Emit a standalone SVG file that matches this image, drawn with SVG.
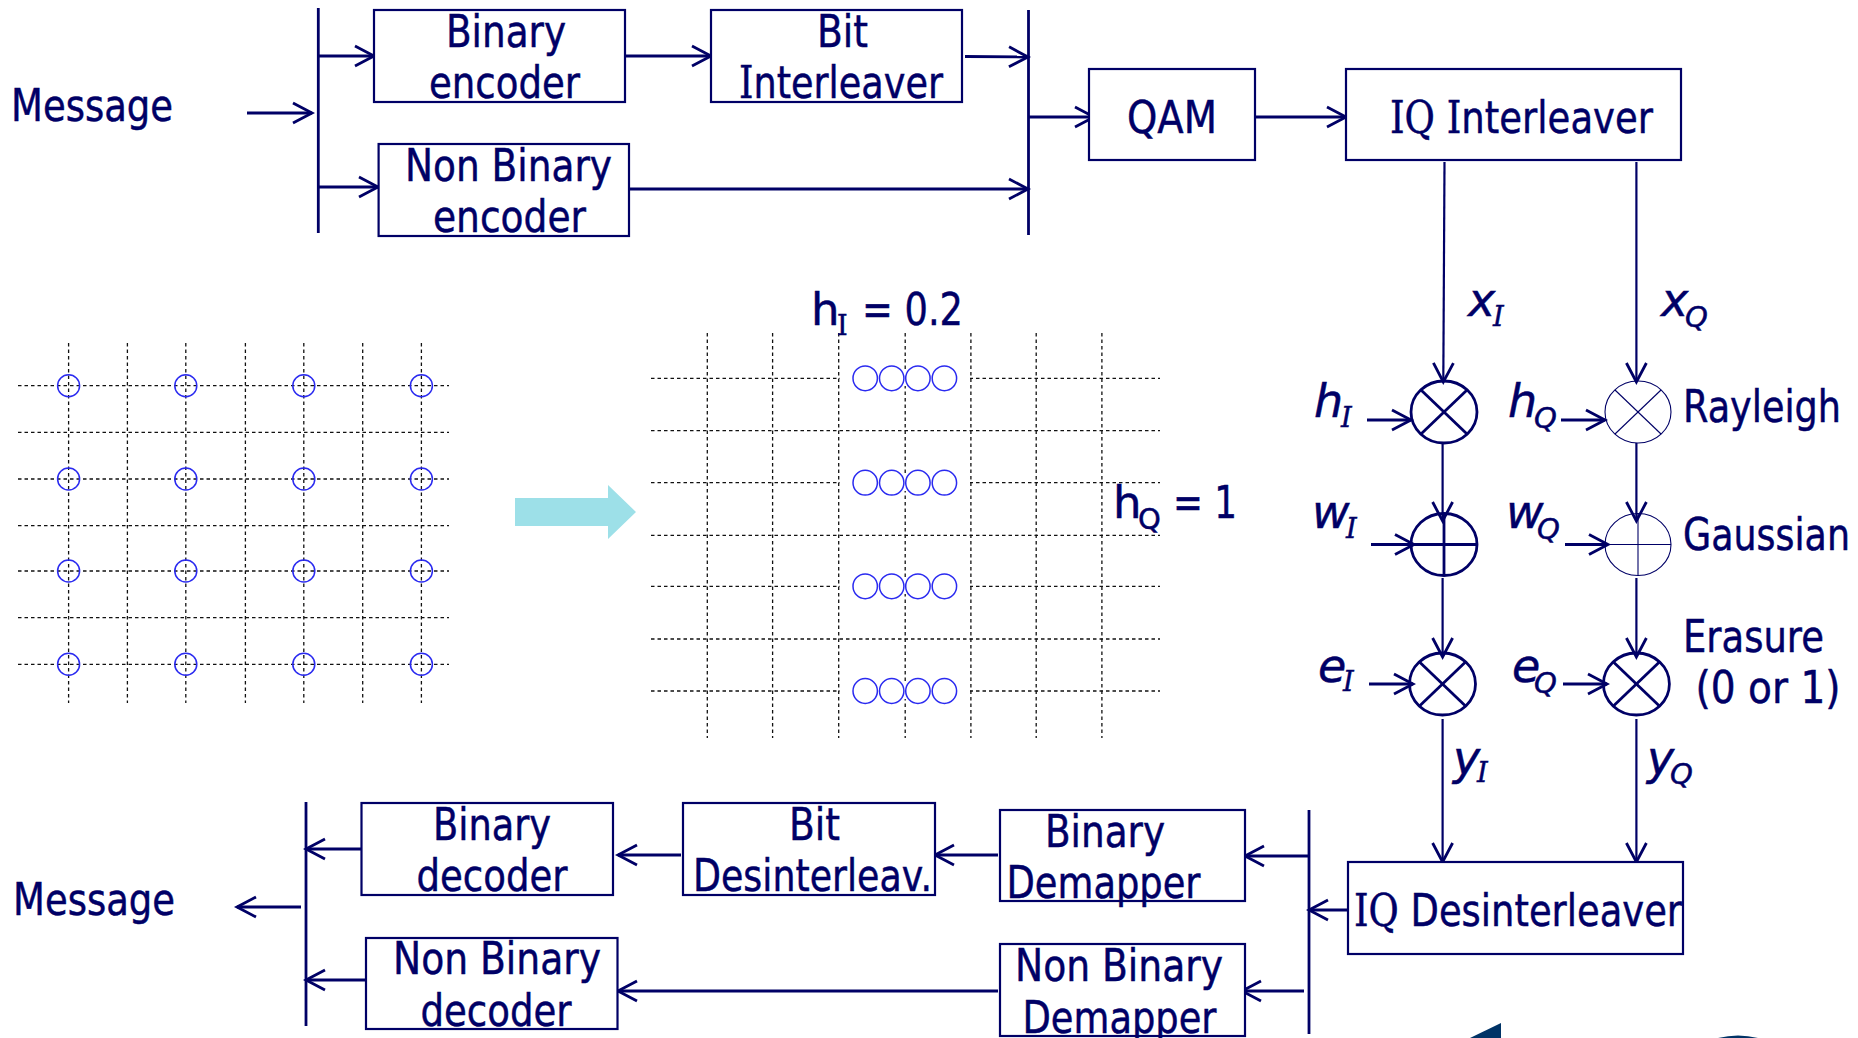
<svg xmlns="http://www.w3.org/2000/svg" width="1858" height="1038" viewBox="0 0 1858 1038">
<style>
text{font-family:"DejaVu Sans","Liberation Sans",sans-serif;font-size:45px;fill:#000066;stroke:#000066;stroke-width:.5;transform:translateY(1.2px)}
.i{font-style:italic;font-size:46px}
.s{font-size:29px}
.ser{font-family:"DejaVu Serif","Liberation Serif",serif}
text.s.ser{font-size:27px}
.box{fill:#fff;stroke:#000066;stroke-width:2.2}
.cn line{stroke:#000066;stroke-width:2.8;fill:none}
.cn .ar{marker-end:url(#h)}
.cn .thin{stroke-width:2.2}
.ring line{stroke:#000066;stroke-width:2.8}
.ring ellipse{fill:none;stroke:#000066;stroke-width:2.8}
.ring.t line,.ring.t ellipse{stroke-width:1.1}
.grid line{stroke:#111;stroke-width:1.3;stroke-dasharray:3.5 3}
.pt{fill:none;stroke:#2a2af0;stroke-width:1.5}
.corner{fill:#003366}
</style>
<defs>
<marker id="h" markerUnits="userSpaceOnUse" orient="auto" refX="0" refY="0" markerWidth="28" markerHeight="28" viewBox="-24 -14 28 28" overflow="visible">
<path d="M-19,-10 L0,0 L-19,10" fill="none" stroke="#000066" stroke-width="2.8"/>
</marker>
</defs>

<g id="grid-left" class="grid">
<line x1="68.6" y1="343" x2="68.6" y2="703"/><line x1="127.4" y1="343" x2="127.4" y2="703"/><line x1="185.8" y1="343" x2="185.8" y2="703"/><line x1="245.4" y1="343" x2="245.4" y2="703"/><line x1="303.8" y1="343" x2="303.8" y2="703"/><line x1="362.7" y1="343" x2="362.7" y2="703"/><line x1="421.4" y1="343" x2="421.4" y2="703"/>
<line x1="18" y1="385.7" x2="449" y2="385.7"/><line x1="18" y1="432.3" x2="449" y2="432.3"/><line x1="18" y1="479" x2="449" y2="479"/><line x1="18" y1="525.7" x2="449" y2="525.7"/><line x1="18" y1="571" x2="449" y2="571"/><line x1="18" y1="617.7" x2="449" y2="617.7"/><line x1="18" y1="664.3" x2="449" y2="664.3"/>
</g>
<g id="points-left" class="pt">
<circle cx="68.6" cy="385.7" r="11"/><circle cx="185.8" cy="385.7" r="11"/><circle cx="303.8" cy="385.7" r="11"/><circle cx="421.4" cy="385.7" r="11"/>
<circle cx="68.6" cy="479" r="11"/><circle cx="185.8" cy="479" r="11"/><circle cx="303.8" cy="479" r="11"/><circle cx="421.4" cy="479" r="11"/>
<circle cx="68.6" cy="571" r="11"/><circle cx="185.8" cy="571" r="11"/><circle cx="303.8" cy="571" r="11"/><circle cx="421.4" cy="571" r="11"/>
<circle cx="68.6" cy="664.3" r="11"/><circle cx="185.8" cy="664.3" r="11"/><circle cx="303.8" cy="664.3" r="11"/><circle cx="421.4" cy="664.3" r="11"/>
</g>
<polygon id="big-arrow" points="515,498 608,498 608,485 636,512 608,539 608,526 515,526" fill="#9de0e8"/>
<g id="grid-right" class="grid">
<line x1="707.3" y1="333" x2="707.3" y2="738"/><line x1="772.6" y1="333" x2="772.6" y2="738"/><line x1="838.7" y1="333" x2="838.7" y2="738"/><line x1="905.2" y1="333" x2="905.2" y2="738"/><line x1="970.9" y1="333" x2="970.9" y2="738"/><line x1="1036.2" y1="333" x2="1036.2" y2="738"/><line x1="1101.9" y1="333" x2="1101.9" y2="738"/>
<line x1="651" y1="378.3" x2="1160" y2="378.3"/><line x1="651" y1="430.7" x2="1160" y2="430.7"/><line x1="651" y1="482.7" x2="1160" y2="482.7"/><line x1="651" y1="535.3" x2="1160" y2="535.3"/><line x1="651" y1="586.3" x2="1160" y2="586.3"/><line x1="651" y1="639" x2="1160" y2="639"/><line x1="651" y1="691" x2="1160" y2="691"/>
</g>
<g id="points-right" class="pt">
<g fill="#fff" stroke="none"><rect x="840" y="370" width="130" height="16"/><rect x="840" y="475" width="130" height="16"/><rect x="840" y="578" width="130" height="16"/><rect x="840" y="683" width="130" height="16"/></g>
<ellipse cx="865.2" cy="378.3" rx="12.2" ry="12.4"/><ellipse cx="891.7" cy="378.3" rx="12.2" ry="12.4"/><ellipse cx="917.9" cy="378.3" rx="12.2" ry="12.4"/><ellipse cx="944.4" cy="378.3" rx="12.2" ry="12.4"/>
<ellipse cx="865.2" cy="482.7" rx="12.2" ry="12.4"/><ellipse cx="891.7" cy="482.7" rx="12.2" ry="12.4"/><ellipse cx="917.9" cy="482.7" rx="12.2" ry="12.4"/><ellipse cx="944.4" cy="482.7" rx="12.2" ry="12.4"/>
<ellipse cx="865.2" cy="586.3" rx="12.2" ry="12.4"/><ellipse cx="891.7" cy="586.3" rx="12.2" ry="12.4"/><ellipse cx="917.9" cy="586.3" rx="12.2" ry="12.4"/><ellipse cx="944.4" cy="586.3" rx="12.2" ry="12.4"/>
<ellipse cx="865.2" cy="691" rx="12.2" ry="12.4"/><ellipse cx="891.7" cy="691" rx="12.2" ry="12.4"/><ellipse cx="917.9" cy="691" rx="12.2" ry="12.4"/><ellipse cx="944.4" cy="691" rx="12.2" ry="12.4"/>
</g>
<path id="corner-triangle" class="corner" d="M1470,1038 L1501,1023 L1501,1038 Z"/>
<path id="corner-arc" class="corner" d="M1718,1038 Q1738,1033 1758,1038 Z"/>

<g id="connectors" class="cn">
<line x1="318.3" y1="8" x2="318.3" y2="233"/>
<line x1="1028.5" y1="10" x2="1028.5" y2="235"/>
<line x1="306" y1="802" x2="306" y2="1026"/>
<line x1="1309" y1="810" x2="1309" y2="1034"/>
<line class="ar" x1="247" y1="113" x2="312" y2="113"/>
<line class="ar" x1="318" y1="56" x2="374" y2="56"/>
<line class="ar" x1="621" y1="56" x2="711" y2="56"/>
<line class="ar" x1="965" y1="56.5" x2="1028" y2="57"/>
<line class="ar" x1="318" y1="187" x2="378" y2="187"/>
<line class="ar" x1="629" y1="189" x2="1028" y2="189"/>
<line class="ar" x1="1028" y1="117" x2="1094" y2="117"/>
<line class="ar" x1="1256" y1="117" x2="1346" y2="117"/>
<line class="ar thin" x1="1444.5" y1="162" x2="1443.3" y2="382"/>
<line class="ar thin" x1="1636.4" y1="162" x2="1636.4" y2="382"/>
<line class="ar thin" x1="1442.6" y1="443" x2="1442.6" y2="521"/>
<line class="ar thin" x1="1636.4" y1="443" x2="1636.4" y2="521"/>
<line class="ar thin" x1="1442.6" y1="578" x2="1442.6" y2="657"/>
<line class="ar thin" x1="1636.4" y1="578" x2="1636.4" y2="657"/>
<line class="ar thin" x1="1442.6" y1="719" x2="1442.6" y2="862"/>
<line class="ar thin" x1="1636.4" y1="719" x2="1636.4" y2="862"/>
<line class="ar" x1="1367" y1="420" x2="1411" y2="420"/>
<line class="ar" x1="1561" y1="420" x2="1605" y2="420"/>
<line class="ar" x1="1371" y1="544.5" x2="1414" y2="544.5"/>
<line class="ar" x1="1565" y1="544.5" x2="1608" y2="544.5"/>
<line class="ar" x1="1369" y1="684" x2="1413" y2="684"/>
<line class="ar" x1="1563" y1="684" x2="1607" y2="684"/>
<line class="ar" x1="1352" y1="910" x2="1309" y2="910"/>
<line class="ar" x1="1309" y1="856" x2="1245" y2="856"/>
<line class="ar" x1="1304" y1="991" x2="1242" y2="991"/>
<line class="ar" x1="998" y1="855" x2="935" y2="855"/>
<line class="ar" x1="681" y1="855" x2="618" y2="855"/>
<line class="ar" x1="361" y1="849" x2="306" y2="849"/>
<line class="ar" x1="366" y1="980" x2="306" y2="980"/>
<line class="ar" x1="998" y1="991" x2="618" y2="991"/>
<line class="ar" x1="301" y1="907" x2="237" y2="907"/>
</g>

<g id="binary-encoder"><rect class="box" x="374" y="10" width="251" height="92"/><text x="446" y="46" textLength="120" lengthAdjust="spacingAndGlyphs">Binary</text><text x="429" y="97" textLength="151" lengthAdjust="spacingAndGlyphs">encoder</text></g>
<g id="bit-interleaver"><rect class="box" x="711" y="10" width="251" height="92"/><text x="817" y="46" textLength="51" lengthAdjust="spacingAndGlyphs">Bit</text><text x="739" y="97" textLength="204" lengthAdjust="spacingAndGlyphs"><tspan class="ser">I</tspan>nterleaver</text></g>
<g id="non-binary-encoder"><rect class="box" x="378.6" y="144" width="250.4" height="92"/><text x="405" y="180" textLength="207" lengthAdjust="spacingAndGlyphs">Non Binary</text><text x="433" y="231" textLength="153" lengthAdjust="spacingAndGlyphs">encoder</text></g>
<g id="qam"><rect class="box" x="1089" y="69" width="166" height="91"/><text x="1127" y="132" textLength="90" lengthAdjust="spacingAndGlyphs">QAM</text></g>
<g id="iq-interleaver"><rect class="box" x="1346" y="69" width="335" height="91"/><text x="1390" y="132" textLength="263" lengthAdjust="spacingAndGlyphs"><tspan class="ser">IQ I</tspan>nterleaver</text></g>
<g id="binary-decoder"><rect class="box" x="361.5" y="803" width="251.5" height="92"/><text x="433" y="839" textLength="118" lengthAdjust="spacingAndGlyphs">Binary</text><text x="416.5" y="890" textLength="151" lengthAdjust="spacingAndGlyphs">decoder</text></g>
<g id="bit-desinterleaver"><rect class="box" x="683" y="803" width="252" height="92"/><text x="789" y="839" textLength="51" lengthAdjust="spacingAndGlyphs">Bit</text><text x="693" y="890" textLength="239" lengthAdjust="spacingAndGlyphs">Desinterleav.</text></g>
<g id="non-binary-decoder"><rect class="box" x="366" y="938" width="251.5" height="91"/><text x="393" y="973" textLength="208" lengthAdjust="spacingAndGlyphs">Non Binary</text><text x="420.5" y="1025" textLength="151" lengthAdjust="spacingAndGlyphs">decoder</text></g>
<g id="binary-demapper"><rect class="box" x="1000" y="810" width="245" height="91"/><text x="1045" y="846" textLength="120" lengthAdjust="spacingAndGlyphs">Binary</text><text x="1006.5" y="897" textLength="194" lengthAdjust="spacingAndGlyphs">Demapper</text></g>
<g id="non-binary-demapper"><rect class="box" x="1000" y="944" width="245" height="92"/><text x="1015" y="980" textLength="208" lengthAdjust="spacingAndGlyphs">Non Binary</text><text x="1022.5" y="1032" textLength="194" lengthAdjust="spacingAndGlyphs">Demapper</text></g>
<g id="iq-desinterleaver"><rect class="box" x="1348" y="862" width="335" height="92"/><text x="1354" y="925" textLength="328" lengthAdjust="spacingAndGlyphs"><tspan class="ser">IQ</tspan> Desinterleaver</text></g>

<g id="mult-hi" class="ring"><ellipse cx="1444" cy="412" rx="33" ry="31"/><line x1="1421" y1="390" x2="1467" y2="434"/><line x1="1467" y1="390" x2="1421" y2="434"/></g>
<g id="mult-hq" class="ring t"><ellipse cx="1638" cy="412" rx="33" ry="31"/><line x1="1615" y1="390" x2="1661" y2="434"/><line x1="1661" y1="390" x2="1615" y2="434"/></g>
<g id="add-wi" class="ring"><ellipse cx="1444" cy="544.5" rx="33" ry="31"/><line x1="1411" y1="544.5" x2="1477" y2="544.5"/><line x1="1444" y1="513.5" x2="1444" y2="575.5"/></g>
<g id="add-wq" class="ring t"><ellipse cx="1638" cy="544.5" rx="33" ry="31"/><line x1="1605" y1="544.5" x2="1671" y2="544.5"/><line x1="1638" y1="513.5" x2="1638" y2="575.5"/></g>
<g id="mult-ei" class="ring"><ellipse cx="1442.5" cy="684" rx="33" ry="31"/><line x1="1419.5" y1="662" x2="1465.5" y2="706"/><line x1="1465.5" y1="662" x2="1419.5" y2="706"/></g>
<g id="mult-eq" class="ring"><ellipse cx="1636.4" cy="684" rx="33" ry="31"/><line x1="1613.4" y1="662" x2="1659.4" y2="706"/><line x1="1659.4" y1="662" x2="1613.4" y2="706"/></g>

<g id="labels">
<text x="11" y="120" textLength="162" lengthAdjust="spacingAndGlyphs">Message</text>
<text x="13" y="914" textLength="162" lengthAdjust="spacingAndGlyphs">Message</text>
<text x="1683" y="421" textLength="158" lengthAdjust="spacingAndGlyphs">Rayleigh</text>
<text x="1683" y="549" textLength="167" lengthAdjust="spacingAndGlyphs">Gaussian</text>
<text x="1683" y="651" textLength="141" lengthAdjust="spacingAndGlyphs">Erasure</text>
<text x="1695.5" y="702" textLength="145" lengthAdjust="spacingAndGlyphs">(0 or 1)</text>
<text x="811" y="324">h</text><text class="s ser" x="837" y="334">I</text><text x="862" y="324" textLength="101" lengthAdjust="spacingAndGlyphs">= 0.2</text>
<text x="1113" y="517">h</text><text class="s" x="1138" y="528">Q</text><text x="1173" y="517" textLength="64" lengthAdjust="spacingAndGlyphs">= 1</text>
<text class="i" x="1468" y="315">x</text><text class="i s ser" x="1493" y="325">I</text>
<text class="i" x="1661" y="315">x</text><text class="i s" x="1685" y="326">Q</text>
<text class="i" x="1314" y="416">h</text><text class="i s ser" x="1341" y="426">I</text>
<text class="i" x="1508" y="416">h</text><text class="i s" x="1534" y="427">Q</text>
<text class="i" x="1312" y="527">w</text><text class="i s ser" x="1346" y="537">I</text>
<text class="i" x="1506" y="527">w</text><text class="i s" x="1537" y="538">Q</text>
<text class="i" x="1318" y="681">e</text><text class="i s ser" x="1343" y="690">I</text>
<text class="i" x="1512" y="681">e</text><text class="i s" x="1534" y="692">Q</text>
<text class="i" x="1453" y="773">y</text><text class="i s ser" x="1477" y="781">I</text>
<text class="i" x="1647" y="773">y</text><text class="i s" x="1670" y="783">Q</text>
</g>
</svg>
